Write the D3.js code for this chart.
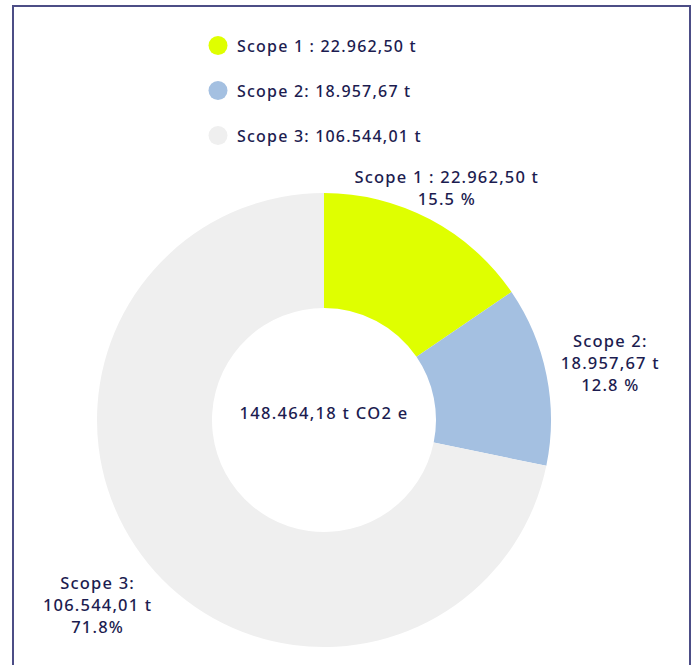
<!DOCTYPE html>
<html><head><meta charset="utf-8">
<script src="https://cdn.jsdelivr.net/npm/d3@7/dist/d3.min.js"></script>
<style>
html,body{margin:0;padding:0;background:#fff;}
svg{display:block;}
text{font-family:"Noto Sans","Open Sans",sans-serif;fill:#1c1c50;font-weight:500;}
</style></head>
<body>
<svg id="chart" width="694" height="665"></svg>
<script>
const categories = ["Scope 1", "Scope 2", "Scope 3"];
const values = [22962.50, 18957.67, 106544.01];
const legendLabels = ["Scope 1 : 22.962,50 t", "Scope 2: 18.957,67 t", "Scope 3: 106.544,01 t"];
const sliceLabels = [
  ["Scope 1 : 22.962,50 t", "15.5 %"],
  ["Scope 2:", "18.957,67 t", "12.8 %"],
  ["Scope 3:", "106.544,01 t", "71.8%"]
];
const centerLabel = "148.464,18 t CO2 e";
const colors = ["#dfff00", "#a4c0e1", "#efefef"];

const svg = d3.select("#chart");

// border frame (open at bottom)
svg.append("path")
  .attr("d", `M13,665 L13,6 L690,6 L690,665`)
  .attr("fill", "none").attr("stroke", "#4c4d86").attr("stroke-width", 2);

const cx = 324, cy = 420, outerR = 227, innerR = 112;
const g = svg.append("g").attr("transform", `translate(${cx},${cy})`);

const pie = d3.pie().sort(null).value(d => d);
const arcs = pie(values);
const arc = d3.arc().innerRadius(innerR).outerRadius(outerR);

g.selectAll("path.slice").data(arcs).enter().append("path")
  .attr("class", "slice")
  .attr("d", arc)
  .attr("fill", (d, i) => colors[i]);

const FS = "16.5px", LS = "1.2px";

// center label
g.append("text").attr("x", 0).attr("y", -8)
  .attr("text-anchor", "middle").attr("dominant-baseline", "central")
  .style("font-size", FS).style("letter-spacing", "1.3px")
  .text(centerLabel);

// slice labels: block centred on the slice's mid-angle, outside the ring
const lineH = 22;
arcs.forEach((a, i) => {
  const mid = (a.startAngle + a.endAngle) / 2;
  const dx = Math.sin(mid), dy = -Math.cos(mid);
  const lines = sliceLabels[i];
  const rc = outerR + 7 + 29 * (lines.length - 1);
  const t = g.append("text").attr("text-anchor", "middle")
    .style("font-size", FS).style("letter-spacing", LS);
  lines.forEach((l, j) => t.append("tspan").attr("x", 0).attr("dy", j === 0 ? 0 : lineH).text(l));
  const bb = t.node().getBBox();
  const bcx = bb.x + bb.width / 2, bcy = bb.y + bb.height / 2;
  t.attr("transform", `translate(${rc * dx - bcx},${rc * dy - bcy})`);
});

// legend
const legend = svg.append("g");
const ly = d3.scaleBand().domain(categories).range([23, 158]);
categories.forEach((c, i) => {
  const y = ly(c) + ly.bandwidth() / 2;
  legend.append("circle").attr("cx", 218).attr("cy", y).attr("r", 9.5).attr("fill", colors[i]);
  legend.append("text").attr("x", 237).attr("y", y).attr("dominant-baseline", "central")
    .style("font-size", "16px").style("letter-spacing", "1.2px")
    .text(legendLabels[i]);
});
</script>
</body></html>
